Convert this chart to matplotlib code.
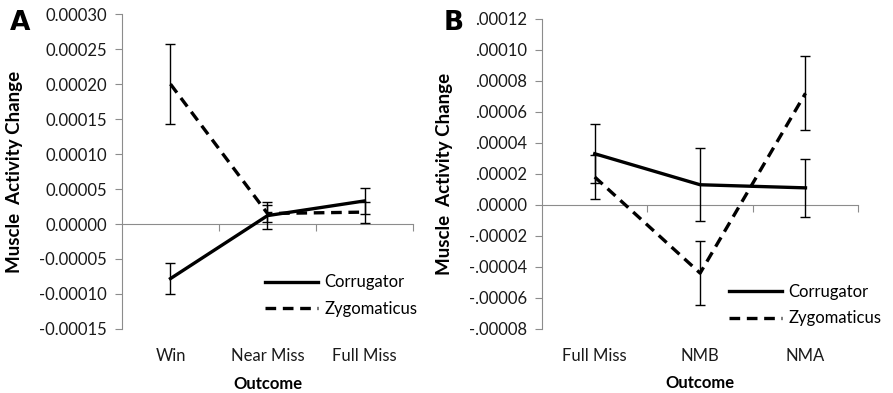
import numpy as np
import matplotlib
matplotlib.use("Agg")
import matplotlib.pyplot as plt
from matplotlib.lines import Line2D
from matplotlib.transforms import blended_transform_factory

plt.rcParams['font.family'] = ['Lato', 'DejaVu Sans']

# Panel A
cats_a = ['Win', 'Near Miss', 'Full Miss']
corr_a = [-0.000078, 0.000012, 0.000033]
corr_a_err = [0.000022, 0.000019, 0.000019]
zygo_a = [0.000200, 0.000015, 0.000017]
zygo_a_err = [0.000057, 0.000012, 0.000015]
yticks_a = [-0.00015, -0.00010, -0.00005, 0.0, 0.00005, 0.00010, 0.00015, 0.00020, 0.00025, 0.00030]
ylabels_a = ['-0.00015', '-0.00010', '-0.00005', '0.00000', '0.00005', '0.00010',
             '0.00015', '0.00020', '0.00025', '0.00030']

# Panel B
cats_b = ['Full Miss', 'NMB', 'NMA']
corr_b = [0.000033, 0.000013, 0.000011]
corr_b_err = [0.000019, 0.0000235, 0.0000185]
zygo_b = [0.000018, -0.000044, 0.000072]
zygo_b_err = [0.000014, 0.0000205, 0.000024]
yticks_b = [-0.00008, -0.00006, -0.00004, -0.00002, 0.0, 0.00002, 0.00004,
            0.00006, 0.00008, 0.00010, 0.00012]
ylabels_b = ['-.00008', '-.00006', '-.00004', '-.00002', '.00000', '.00002', '.00004',
             '.00006', '.00008', '.00010', '.00012']

GRAY = '#8c8c8c'
FS = 12
LW = 2.4
DASH = (0, (3.2, 2.0))


def panel(ax, cats, corr, corr_err, zygo, zygo_err, yticks, ylabels, leg_xy):
    x = np.arange(len(cats))
    ax.errorbar(x, corr, yerr=corr_err, color='black', lw=LW, ls='-',
                elinewidth=1.0, capsize=3.5, capthick=1.0, zorder=3)
    ax.errorbar(x, zygo, yerr=zygo_err, color='black', lw=LW, ls=DASH,
                elinewidth=1.0, capsize=3.5, capthick=1.0, zorder=3)
    ax.set_xlim(-0.5, len(cats) - 0.5)
    ax.set_ylim(yticks[0], yticks[-1])
    ax.set_yticks(yticks)
    ax.set_yticklabels(ylabels, fontsize=FS, color='#1a1a1a')
    for s in ['top', 'right']:
        ax.spines[s].set_visible(False)
    ax.spines['left'].set_color(GRAY)
    ax.spines['bottom'].set_color(GRAY)
    ax.spines['bottom'].set_position(('data', 0))
    ax.tick_params(axis='y', direction='out', length=5, color=GRAY, pad=6)
    ax.set_xticks(np.arange(len(cats)) + 0.5)
    ax.tick_params(axis='x', direction='out', length=5, color=GRAY, labelbottom=False)
    tr = blended_transform_factory(ax.transData, ax.transAxes)
    for xi, c in zip(x, cats):
        ax.text(xi, -0.06, c, transform=tr, ha='center', va='top', fontsize=FS, color='#1a1a1a')
    ax.text(0.5, -0.15, 'Outcome', transform=ax.transAxes, ha='center', va='top',
            fontsize=FS, fontweight='bold')
    ax.set_ylabel('Muscle  Activity Change', fontsize=13.5, fontweight='bold')
    handles = [Line2D([], [], color='black', lw=LW, ls='-'),
               Line2D([], [], color='black', lw=LW, ls=DASH)]
    ax.legend(handles, ['Corrugator', 'Zygomaticus'], loc='center left', bbox_to_anchor=leg_xy,
              frameon=False, fontsize=FS, handlelength=3.2, handletextpad=0.4,
              labelspacing=0.65, borderpad=0, borderaxespad=0)


fig = plt.figure(figsize=(8.93, 3.93), dpi=100)
ax_a = fig.add_axes([0.1366, 0.163, 0.3259, 0.801])
ax_b = fig.add_axes([0.607, 0.163, 0.354, 0.789])

panel(ax_a, cats_a, corr_a, corr_a_err, zygo_a, zygo_a_err, yticks_a, ylabels_a, (0.49, 0.105))
panel(ax_b, cats_b, corr_b, corr_b_err, zygo_b, zygo_b_err, yticks_b, ylabels_b, (0.59, 0.077))

ax_a.yaxis.set_label_coords(-0.34, 0.5)
ax_b.yaxis.set_label_coords(-0.282, 0.5)

fig.text(0.011, 0.975, 'A', fontsize=19, fontweight='bold', va='top', family='DejaVu Sans')
fig.text(0.497, 0.975, 'B', fontsize=19, fontweight='bold', va='top', family='DejaVu Sans')

fig.savefig('out.png', dpi=100)
